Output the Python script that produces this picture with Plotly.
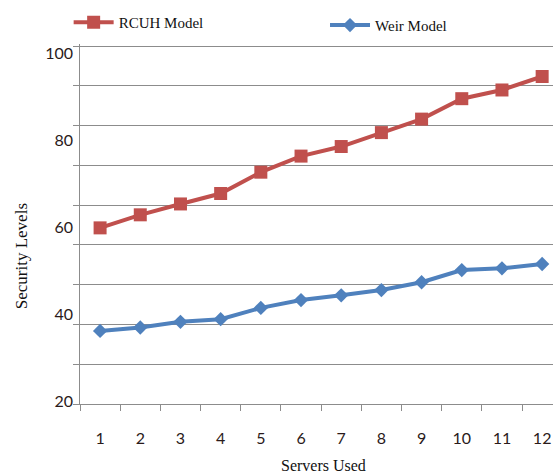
import plotly.graph_objects as go

# Number of servers used (category axis)
servers = [str(i) for i in range(1, 13)]

# Security level reached by each model
rcuh = [59.8, 62.8, 65.3, 67.7, 72.6, 76.3, 78.5, 81.7, 84.8, 89.5, 91.5, 94.6]
weir = [36.1, 36.9, 38.2, 38.8, 41.4, 43.2, 44.3, 45.5, 47.3, 50.1, 50.5, 51.5]

# Labelled values on the vertical axis
y_labels = [20, 40, 60, 80, 100]

RED = "#C0504D"
BLUE = "#4F81BD"
GRID = "#8C8C8C"
SERIF = "Liberation Serif, Times New Roman, serif"
SANS = "Lato, sans-serif"

# Value range of the plotting area and the ten evenly spaced grid lines
y_lo, y_hi = 19.31, 102.07
grid_top = 101.61
grid_step = (grid_top - y_lo) / 9
grid_vals = [y_lo + k * grid_step for k in range(10)]

fig = go.Figure()

fig.add_trace(go.Scatter(
    x=servers, y=rcuh, name="RCUH Model", mode="lines+markers",
    line=dict(color=RED, width=4),
    marker=dict(symbol="square", size=13, color=RED),
    legend="legend",
))
fig.add_trace(go.Scatter(
    x=servers, y=weir, name="Weir Model", mode="lines+markers",
    line=dict(color=BLUE, width=4),
    marker=dict(symbol="diamond", size=11, color=BLUE),
    legend="legend2",
))

# Invisible trace that carries the grid axis
fig.add_trace(go.Scatter(
    x=[servers[0]], y=[y_lo], yaxis="y2", mode="markers",
    marker=dict(opacity=0), showlegend=False, hoverinfo="skip",
))

legend_style = dict(
    orientation="h", xanchor="left", yanchor="middle",
    font=dict(family=SERIF, size=15, color="#111"),
    bgcolor="rgba(0,0,0,0)", itemwidth=40,
)

fig.update_layout(
    width=553, height=476,
    margin=dict(l=80, r=0, t=44, b=72),
    paper_bgcolor="white", plot_bgcolor="white",
    showlegend=True,
    legend=dict(x=-0.024, y=1.06, **legend_style),
    legend2=dict(x=0.518, y=1.052, **legend_style),
    xaxis=dict(
        type="category", range=[-0.5, 11.27],
        tickson="boundaries", ticks="outside", ticklen=6, tickcolor=GRID,
        showline=True, linecolor=GRID, linewidth=1,
        showgrid=False, zeroline=False,
        tickfont=dict(family=SANS, size=16, color="#2a1a1a"),
        ticklabelstandoff=20,
    ),
    yaxis=dict(
        range=[y_lo, y_hi], tickmode="array", tickvals=y_labels,
        ticks="", showgrid=False, zeroline=False, showline=False,
        tickfont=dict(family=SANS, size=16, color="#2a1a1a"),
        ticklabelstandoff=6,
    ),
    yaxis2=dict(
        overlaying="y", side="left", range=[y_lo, y_hi],
        tickmode="array", tickvals=grid_vals,
        showticklabels=False, ticks="outside", ticklen=6, tickcolor=GRID,
        showgrid=True, gridcolor=GRID, gridwidth=1,
        showline=True, linecolor=GRID, linewidth=1, zeroline=False,
    ),
    annotations=[
        dict(text="Security Levels", textangle=-90, xref="paper", yref="paper",
             x=-0.123, y=0.41, showarrow=False, xanchor="center", yanchor="middle",
             font=dict(family=SERIF, size=17, color="#111")),
        dict(text="Servers Used", xref="paper", yref="paper",
             x=0.515, y=-0.2, showarrow=False, xanchor="center", yanchor="bottom",
             font=dict(family=SERIF, size=16, color="#111")),
    ],
)

fig.write_html("out.html")
